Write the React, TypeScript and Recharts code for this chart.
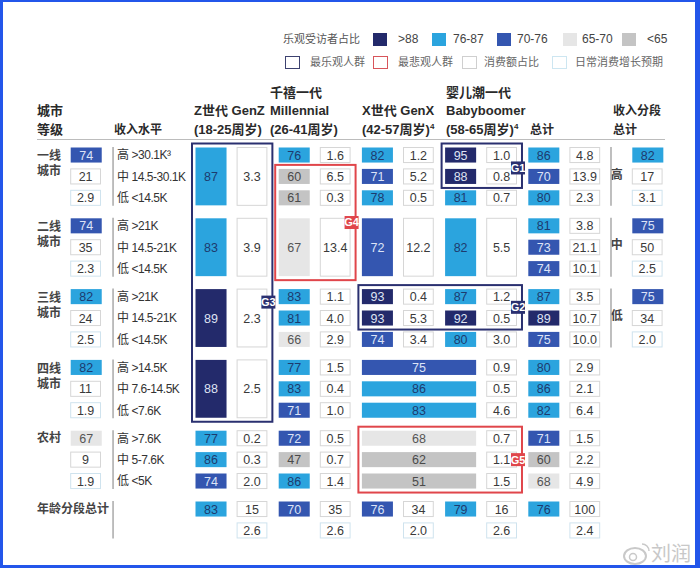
import React from 'react';
import { ScatterChart, Scatter, XAxis, YAxis } from 'recharts';

const cityTiers = ['一线|城市', '二线|城市', '三线|城市', '四线|城市', '农村'];
const incomeBands = [
  ['高 >30.1K³', '中 14.5-30.1K', '低 <14.5K'],
  ['高 >21K', '中 14.5-21K', '低 <14.5K'],
  ['高 >21K', '中 14.5-21K', '低 <14.5K'],
  ['高 >14.5K', '中 7.6-14.5K', '低 <7.6K'],
  ['高 >7.6K', '中 5-7.6K', '低 <5K'],
];
const ageTotalLabel = '年龄分段总计';
const incomeTierLabels = ['高', '中', '低'];

const cityOptimism = [74, 74, 82, 82, 67];
const cityShare = [21, 35, 24, 11, 9];
const cityGrowth = [2.9, 2.3, 2.5, 1.9, 1.9];

// a single number = one merged cell over the three income rows
type G = number | number[];
const genZOptimism: G[] = [87, 83, 89, 88, [77, 86, 74]];
const genZShare: G[] = [3.3, 3.9, 2.3, 2.5, [0.2, 0.3, 2.0]];
const millOptimism: G[] = [[76, 60, 61], 67, [83, 81, 66], [77, 83, 71], [72, 47, 86]];
const millShare: G[] = [[1.6, 6.5, 0.3], 13.4, [1.1, 4.0, 2.9], [1.5, 0.4, 1.0], [0.5, 0.7, 1.4]];
const genXOptimism: G[] = [[82, 71, 78], 72, [93, 93, 74]];
const genXShare: G[] = [[1.2, 5.2, 0.5], 12.2, [0.4, 5.3, 3.4]];
const boomerOptimism: G[] = [[95, 88, 81], 82, [87, 92, 80]];
const boomerShare: G[] = [[1.0, 0.8, 0.7], 5.5, [1.2, 0.5, 3.0], [0.9, 0.5, 4.6], [0.7, 1.1, 1.5]];
// 四线 / 农村: GenX + Babyboomer share one optimism value
const olderOptimism = [[75, 86, 83], [68, 62, 51]];
const totalOptimism = [[86, 70, 80], [81, 73, 74], [87, 89, 75], [80, 86, 82], [71, 60, 68]];
const totalShare = [[4.8, 13.9, 2.3], [3.8, 21.1, 10.1], [3.5, 10.7, 10.0], [2.9, 2.1, 6.4], [1.5, 2.2, 4.9]];

const ageTotalOptimism = [83, 70, 76, 79, 76];
const ageTotalShare = [15, 35, 34, 16, 100];
const ageTotalGrowth = [2.6, 2.6, 2.0, 2.6, 2.4];

const incomeTotalOptimism = [82, 75, 75];
const incomeTotalShare = [17, 50, 34];
const incomeTotalGrowth = [3.1, 2.5, 2.0];

const legendBands = ['>88', '76-87', '70-76', '65-70', '<65'];
const legendOutlines = ['最乐观人群', '最悲观人群', '消费额占比', '日常消费增长预期'];

// ---- layout ----
const W = 700;
const H = 568;
const SLOT = 41.6; // px per column slot
const ROW = 21.4; // px per row
const X_MIN = -70.2 / SLOT;
const X_MAX = X_MIN + W / SLOT;
const Y_MIN = -147 / ROW;
const Y_MAX = Y_MIN + H / ROW;
const GROUP_STEP = 70.8 / ROW;
const CELL_W = 0.77;
const BOX_W = 0.74;
const CELL_H = 0.75;

const CITY = 0, GENZ = 3, MILL = 5, GENX = 7, BOOM = 9, TOTAL = 11, INCOME = 13.5;
const TIER_X = -0.8, BAND_X = 1.125, RULE_X = 1.03, RULE_R_X = 13.0, INCOME_TAG_X = 13.14;

const BAND_FILL = ['#232a6b', '#2ba4de', '#3456b0', '#e6e6e6', '#c4c4c4'];
const BAND_TEXT = ['#dfe3f3', '#1d3b6e', '#dde4f7', '#555', '#4a4a4a'];
const NAVY_LINE = '#2a3070';
const RED_LINE = '#e0464b';
const NUM_FONT = '"Liberation Sans", Arial, sans-serif';
const CJK_FONT = '"Liberation Sans", "Noto Sans CJK SC", sans-serif';

const band = (v: number) => (v >= 88 ? 0 : v >= 76 ? 1 : v >= 70 ? 2 : v >= 65 ? 3 : 4);
const rowY = (g: number, r: number) => g * GROUP_STEP + r;

type Cell = { x: number; y: number; w: number; h: number; kind: string; text: string; band: number };
const cells: Cell[] = [];
const fmt = (v: number, dec: number) => v.toFixed(dec);

function add(kind: string, col: number, g: number, r: number, rows: number, v: number, dec = 1, cols = 0, b?: number) {
  const w = (kind === 'score' ? CELL_W : BOX_W) + cols;
  const h = rows - 1 + CELL_H;
  const y0 = rowY(g, r);
  cells.push({ x: col + w / 2, y: y0 + h / 2, w, h, kind, text: fmt(v, kind === 'score' ? 0 : dec), band: b ?? band(v) });
}

function addGen(col: number, score: G[], share: G[]) {
  score.forEach((s, g) => {
    if (typeof s === 'number') add('score', col, g, 0, 3, s);
    else s.forEach((v, r) => add('score', col, g, r, 1, v));
  });
  share.forEach((s, g) => {
    if (typeof s === 'number') add('share', col + 1, g, 0, 3, s);
    else s.forEach((v, r) => add('share', col + 1, g, r, 1, v));
  });
}

cityOptimism.forEach((v, g) => {
  add('score', CITY, g, 0, 1, v);
  add('share', CITY, g, 1, 1, cityShare[g], 0);
  add('growth', CITY, g, 2, 1, cityGrowth[g]);
});
addGen(GENZ, genZOptimism, genZShare);
addGen(MILL, millOptimism, millShare);
addGen(GENX, genXOptimism, genXShare);
addGen(BOOM, boomerOptimism, boomerShare);
olderOptimism.forEach((vals, i) => vals.forEach((v, r) => add('score', GENX, 3 + i, r, 1, v, 0, 2)));
totalOptimism.forEach((vals, g) =>
  vals.forEach((v, r) => {
    add('score', TOTAL, g, r, 1, v);
    add('share', TOTAL + 1, g, r, 1, totalShare[g][r]);
  })
);
[GENZ, MILL, GENX, BOOM, TOTAL].forEach((col, i) => {
  // GenX age total 76 is drawn in the 70-76 band in the source
  add('score', col, 5, 0, 1, ageTotalOptimism[i], 0, 0, col === GENX ? 2 : undefined);
  add('share', col + 1, 5, 0, 1, ageTotalShare[i], 0);
  add('growth', col + 1, 5, 1, 1, ageTotalGrowth[i]);
});
incomeTotalOptimism.forEach((v, g) => {
  add('score', INCOME, g, 0, 1, v);
  add('share', INCOME, g, 1, 1, incomeTotalShare[g], 0);
  add('growth', INCOME, g, 2, 1, incomeTotalGrowth[g]);
});

type Lab = { x: number; y: number; type: string; text?: string; h?: number };
const labels: Lab[] = [];
cityTiers.forEach((name, g) => {
  const lines = name.split('|');
  lines.forEach((t, i) =>
    labels.push({ type: 'tier', text: t, x: TIER_X, y: rowY(g, 0) + (lines.length > 1 ? [0.42, 1.12][i] : 0.37) })
  );
  incomeBands[g].forEach((t, r) => labels.push({ type: 'band', text: t, x: BAND_X, y: rowY(g, r) + CELL_H / 2 }));
  labels.push({ type: 'rule', x: RULE_X, y: rowY(g, 0) + (2 + CELL_H) / 2, h: 2 + CELL_H });
});
labels.push({ type: 'tier', text: ageTotalLabel, x: TIER_X, y: rowY(5, 0) + 0.37 });
labels.push({ type: 'rule', x: RULE_X, y: rowY(5, 0) + (1 + CELL_H) / 2, h: 1 + CELL_H });
incomeTierLabels.forEach((t, g) => {
  labels.push({ type: 'tag', text: t, x: INCOME_TAG_X, y: rowY(g, 1) + CELL_H / 2 - 0.1 });
  labels.push({ type: 'rule', x: RULE_R_X, y: rowY(g, 0) + (2 + CELL_H) / 2, h: 2 + CELL_H });
});

const highlightGroups = [
  { tag: 'G1', best: true, c0: BOOM, c1: BOOM + 1, g0: 0, r0: 0, g1: 0, r1: 1, tagAt: 0.55 },
  { tag: 'G2', best: true, c0: GENX, c1: BOOM + 1, g0: 2, r0: 0, g1: 2, r1: 1, tagAt: 0.5 },
  { tag: 'G3', best: true, c0: GENZ, c1: GENZ + 1, g0: 0, r0: 0, g1: 3, r1: 2, tagAt: 0.57 },
  { tag: 'G4', best: false, c0: MILL, c1: MILL + 1, g0: 0, r0: 1, g1: 1, r1: 2, tagAt: 0.5 },
  { tag: 'G5', best: false, c0: GENX, c1: BOOM + 1, g0: 4, r0: 0, g1: 4, r1: 2, tagAt: 0.5 },
];
const outlines = highlightGroups.map((o) => {
  const xs = o.c0, xe = o.c1 + BOX_W;
  const ys = rowY(o.g0, o.r0), ye = rowY(o.g1, o.r1) + CELL_H;
  return { ...o, x: (xs + xe) / 2, y: (ys + ye) / 2, w: xe - xs, h: ye - ys };
});

// ---- shapes ----
const CellShape = (p: any) => {
  const { cx, cy, payload: c } = p;
  const w = c.w * SLOT, h = c.h * ROW;
  const score = c.kind === 'score';
  const fill = score ? BAND_FILL[c.band] : '#fff';
  const stroke = score ? 'none' : c.kind === 'growth' ? '#cfe3ee' : '#d6d6d6';
  return (
    <g>
      <rect x={cx - w / 2 + 0.5} y={cy - h / 2 + 0.5} width={w - 1} height={h - 1} fill={fill} stroke={stroke} />
      <text x={cx} y={cy} dy="0.36em" textAnchor="middle" fontSize={12.5} fontFamily={NUM_FONT}
        fill={score ? BAND_TEXT[c.band] : '#3a3a3a'}>{c.text}</text>
    </g>
  );
};

const LabelShape = (p: any) => {
  const { cx, cy, payload: l } = p;
  if (l.type === 'rule') {
    const h = l.h * ROW;
    return <line x1={cx} x2={cx} y1={cy - h / 2} y2={cy + h / 2} stroke="#9c9c9c" strokeWidth={1.3} />;
  }
  const tier = l.type === 'tier' || l.type === 'tag';
  return (
    <text x={cx} y={cy} dy="0.36em" textAnchor={l.type === 'tag' ? 'middle' : 'start'}
      fontSize={tier ? 12 : 12} fontWeight={tier ? 700 : 400} fontFamily={CJK_FONT}
      fill={tier ? '#444' : '#333'} letterSpacing={tier ? 0 : -0.45}>{l.text}</text>
  );
};

const OutlineShape = (p: any) => {
  const { cx, cy, payload: o } = p;
  const w = o.w * SLOT, h = o.h * ROW;
  const x0 = cx - w / 2 - 3, x1 = cx + w / 2 + 5;
  const y0 = cy - h / 2 - 3.5, y1 = cy + h / 2 + 3.5;
  const col = o.best ? NAVY_LINE : RED_LINE;
  const ty = y0 + (y1 - y0) * o.tagAt;
  return (
    <g>
      <rect x={x0} y={y0} width={x1 - x0} height={y1 - y0} fill="none" stroke={col} strokeWidth={2} />
      <rect x={x1 - 11} y={ty - 6.5} width={14} height={13} fill={col} />
      <text x={x1 - 4} y={ty} dy="0.36em" textAnchor="middle" fontSize={11} fontWeight={700}
        fontFamily={NUM_FONT} fill="#fff">{o.tag}</text>
    </g>
  );
};

// ---- overlay text ----
const T = ({ x, y, children, size = 13, bold = true, color = '#2a2a2a' }: any) => (
  <div style={{ position: 'absolute', left: x, top: y - 9, lineHeight: '18px', fontSize: size,
    fontWeight: bold ? 700 : 400, color, fontFamily: CJK_FONT, whiteSpace: 'nowrap' }}>{children}</div>
);
const Sup = ({ c }: { c: string }) => <sup style={{ fontSize: 8, verticalAlign: 'top', lineHeight: '12px' }}>{c}</sup>;

const bandSwatchX = [373, 432, 497, 563, 622];
const bandLabelX = [398, 453, 517, 582, 647];
const outlineSwatchX = [285, 373, 462, 552];
const outlineLabelX = [310, 398, 484, 575];
const outlineStroke = ['#3d4270', '#d8555b', '#cfcfcf', '#cde6f1'];

export default function App() {
  return (
    <div style={{ position: 'absolute', left: 0, top: 0, width: W, height: H, background: '#fff', overflow: 'hidden' }}>
      <ScatterChart width={W} height={H} margin={{ top: 0, right: 0, bottom: 0, left: 0 }}>
        <XAxis type="number" dataKey="x" domain={[X_MIN, X_MAX]} hide allowDataOverflow />
        <YAxis type="number" dataKey="y" domain={[Y_MIN, Y_MAX]} hide reversed allowDataOverflow />
        <Scatter data={labels} shape={LabelShape} isAnimationActive={false} />
        <Scatter data={cells} shape={CellShape} isAnimationActive={false} />
        <Scatter data={outlines} shape={OutlineShape} isAnimationActive={false} />
      </ScatterChart>

      {/* legend */}
      <T x={283} y={39} size={11} bold={false} color="#555">乐观受访者占比</T>
      {legendBands.map((b, i) => (
        <React.Fragment key={b}>
          <div style={{ position: 'absolute', left: bandSwatchX[i], top: 33, width: 14, height: 13, background: BAND_FILL[i] }} />
          <T x={bandLabelX[i]} y={39} size={12} bold={false} color="#444">{b}</T>
        </React.Fragment>
      ))}
      {legendOutlines.map((b, i) => (
        <React.Fragment key={b}>
          <div style={{ position: 'absolute', left: outlineSwatchX[i], top: 56, width: 15, height: 13,
            boxSizing: 'border-box', border: `1.5px solid ${outlineStroke[i]}` }} />
          <T x={outlineLabelX[i]} y={62} size={11} bold={false} color="#666">{b}</T>
        </React.Fragment>
      ))}

      {/* column headers */}
      <T x={37} y={111}>城市</T>
      <T x={37} y={130}>等级</T>
      <T x={114} y={130} size={12}>收入水平</T>
      <T x={194} y={111}>Z世代 GenZ</T>
      <T x={194} y={130}>(18-25周岁)</T>
      <T x={270} y={93}>千禧一代</T>
      <T x={270} y={111}>Millennial</T>
      <T x={270} y={130}>(26-41周岁)</T>
      <T x={362} y={111}>X世代 GenX</T>
      <T x={362} y={130}>(42-57周岁)<Sup c="4" /></T>
      <T x={446} y={93}>婴儿潮一代</T>
      <T x={446} y={111}>Babyboomer</T>
      <T x={446} y={130}>(58-65周岁)<Sup c="4" /></T>
      <T x={530} y={130} size={12}>总计</T>
      <T x={613} y={111} size={12}>收入分段</T>
      <T x={613} y={130} size={12}>总计</T>
      <div style={{ position: 'absolute', left: 37, top: 139, width: 628, height: 1, background: '#bcbcbc' }} />

      {/* watermark */}
      <svg style={{ position: 'absolute', left: 622, top: 540 }} width={30} height={26}>
        <ellipse cx={13} cy={16} rx={11} ry={8} fill="none" stroke="#c9c9c9" strokeWidth={2} />
        <circle cx={11} cy={17} r={3.5} fill="none" stroke="#c9c9c9" strokeWidth={1.5} />
        <path d="M20 4 a7 7 0 0 1 7 7" fill="none" stroke="#c9c9c9" strokeWidth={1.5} />
      </svg>
      <T x={651} y={554} size={20} bold={false} color="#c8c8c8">刘润</T>

      {/* screenshot frame */}
      <div style={{ position: 'absolute', inset: 0, boxSizing: 'border-box', borderStyle: 'solid',
        borderColor: '#2356ea', borderWidth: '2px 5px 3px 3px', pointerEvents: 'none' }} />
    </div>
  );
}
